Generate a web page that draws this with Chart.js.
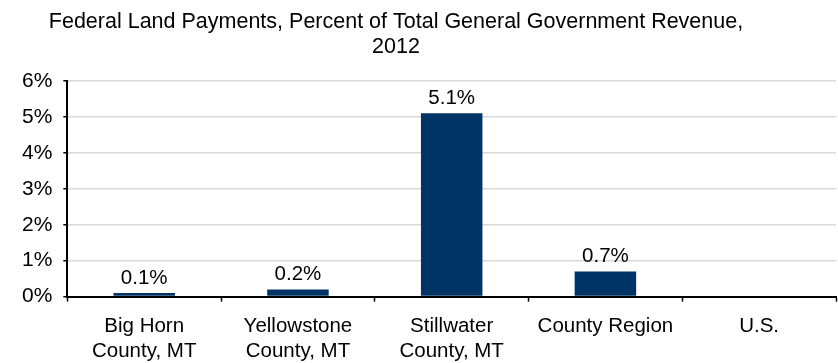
<!DOCTYPE html>
<html>
<head>
<meta charset="utf-8">
<script src="https://cdn.jsdelivr.net/npm/chart.js@4/dist/chart.umd.min.js"></script>
<style>
  html, body { margin: 0; padding: 0; background: #fff; }
  #wrap { width: 838px; height: 363px; }
</style>
</head>
<body>
<div id="wrap"><canvas id="myChart" width="838" height="363"></canvas></div>
<script>
const categories = [
  ['Big Horn', 'County, MT'],
  ['Yellowstone', 'County, MT'],
  ['Stillwater', 'County, MT'],
  'County Region',
  'U.S.'
];
const paymentsPct = [0.1, 0.2, 5.1, 0.7, null];
const titleLines = ['Federal Land Payments, Percent of Total General Government Revenue,', '2012'];

const FONT = "'Liberation Sans', Arial, sans-serif";
const TITLE_X = 396;

// two-line heading, set a little left of centre
const heading = {
  id: 'heading',
  afterDraw(chart) {
    const ctx = chart.ctx;
    ctx.save();
    ctx.font = '21.5px ' + FONT;
    ctx.fillStyle = '#000';
    ctx.textAlign = 'center';
    ctx.textBaseline = 'alphabetic';
    titleLines.forEach((line, i) => ctx.fillText(line, TITLE_X, 28 + i * 25));
    ctx.restore();
  }
};

// writes the value above each bar
const barLabels = {
  id: 'barLabels',
  afterDatasetsDraw(chart) {
    const ctx = chart.ctx;
    const meta = chart.getDatasetMeta(0);
    ctx.save();
    ctx.font = '20.5px ' + FONT;
    ctx.fillStyle = '#000';
    ctx.textAlign = 'center';
    ctx.textBaseline = 'alphabetic';
    meta.data.forEach((bar, i) => {
      const v = paymentsPct[i];
      if (v === null) return;
      ctx.fillText(v.toFixed(1) + '%', bar.x, bar.y - 9);
    });
    ctx.restore();
  }
};

const config = {
  type: 'bar',
  data: {
    labels: categories,
    datasets: [{
      label: 'Federal Land Payments',
      data: paymentsPct,
      backgroundColor: '#003366',
      borderWidth: 0,
      barPercentage: 0.8,
      categoryPercentage: 0.5
    }]
  },
  options: {
    responsive: false,
    animation: false,
    layout: { padding: { left: 11, right: 2, top: 81, bottom: -13 } },
    plugins: {
      legend: { display: false },
      tooltip: { enabled: false },
      title: { display: false }
    },
    scales: {
      x: {
        grid: {
          offset: true,
          drawOnChartArea: false,
          tickColor: '#000',
          tickLength: 5,
          tickWidth: 1.5
        },
        border: { color: '#000', width: 2 },
        ticks: {
          color: '#000',
          font: { family: FONT, size: 20.5, lineHeight: 1.18 },
          maxRotation: 0,
          autoSkip: false,
          padding: 13
        }
      },
      y: {
        min: 0,
        max: 6,
        grid: {
          color: '#d9d9d9',
          lineWidth: 1.5,
          tickColor: '#000',
          tickLength: 4,
          tickWidth: 1.5
        },
        border: { color: '#000', width: 2 },
        ticks: {
          stepSize: 1,
          color: '#000',
          font: { family: FONT, size: 21 },
          padding: 11,
          callback: v => v + '%'
        }
      }
    }
  },
  plugins: [barLabels, heading]
};

var myChart = new Chart(document.getElementById('myChart'), config);
</script>
</body>
</html>
